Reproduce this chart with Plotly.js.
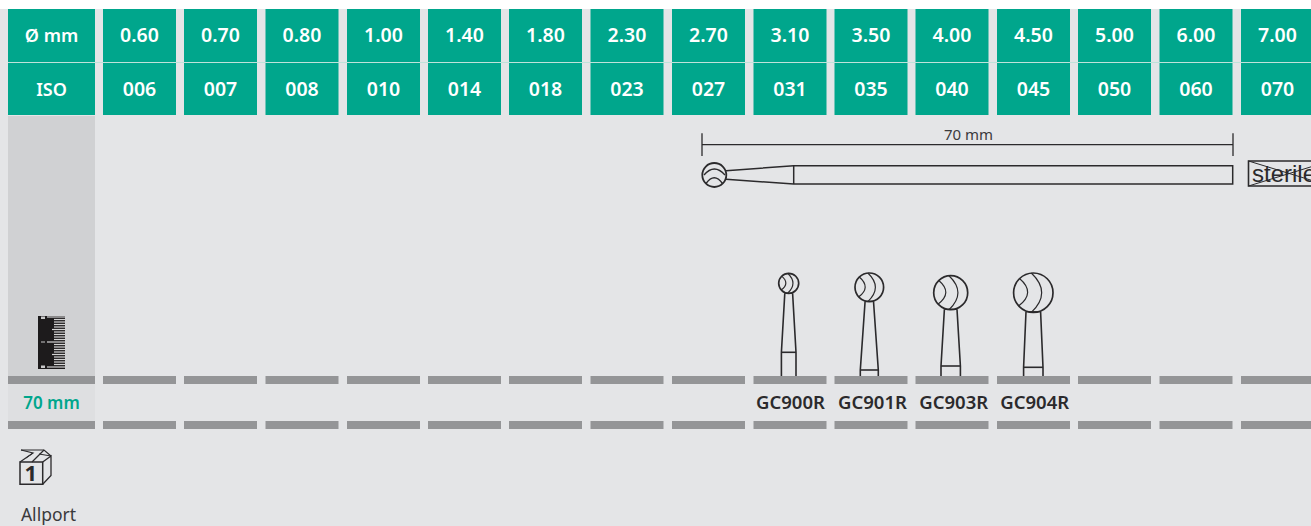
<!DOCTYPE html>
<html><head><meta charset="utf-8">
<script src="https://cdn.plot.ly/plotly-3.0.0.min.js"></script>
<style>html,body{margin:0;padding:0;background:#e4e5e7;overflow:hidden}#c{width:1311px;height:526px}</style>
</head><body><div id="c"></div>
<script>
const diameters=["0.60","0.70","0.80","1.00","1.40","1.80","2.30","2.70","3.10","3.50","4.00","4.50","5.00","6.00","7.00"];
const isoSizes=["006","007","008","010","014","018","023","027","031","035","040","045","050","060","070"];
const colLefts=[103,184,265.5,347,428,509,590.5,672,753.5,834.5,915.5,997,1078,1159.5,1241];
const colWidth=73;
const burCodes=["GC900R","GC901R","GC903R","GC904R"];
const burLabelX=[790.5,872.5,953.7,1034.7];
const burCx=[788.7,869.3,950.7,1033.3];
const burCy=[283.3,287.3,292.7,292.7];
const burR=[10,14.3,17,19.7];
const burNeckTop=[293.3,301.3,309.3,311.7];
const burNeckTopHalf=[3.9,4.2,6.3,7.3];
const burCollarY=[352.3,370,366,367.3];
const burCollarHalf=[7.3,9,9.7,9.7];
const rulerTicks=[317,319.5,322,324.5,327,329.5,332,334.5,337,339.5,342,344.5,347,349.5,352,354.5,357,359.5,362,364.5,367];
const TEAL="#00a68c",GREY="#949597",INK="#2b2a2c";

const shapes=[];
function rect(x0,y0,x1,y1,fill){shapes.push({type:"rect",x0,y0,x1,y1,fillcolor:fill,line:{width:0},layer:"below"});}
function path(d,w,color){shapes.push({type:"path",path:d,line:{width:w||1.6,color:color||INK},fillcolor:"rgba(0,0,0,0)"});}
function circle(cx,cy,r,w){shapes.push({type:"circle",x0:cx-r,x1:cx+r,y0:cy-r,y1:cy+r,line:{width:w||1.7,color:INK},fillcolor:"rgba(0,0,0,0)"});}

rect(0,0,1311,9,"#ffffff");
rect(8,116,95,376,"#d0d1d3");
rect(8,384,95,421,"#dedfe1");
rect(8,9,95,62,TEAL);rect(8,63,95,115,TEAL);
colLefts.forEach(x=>{
  rect(x,9,x+colWidth,62,TEAL);rect(x,63,x+colWidth,115,TEAL);
  rect(x,376,x+colWidth,384,GREY);rect(x,421,x+colWidth,429,GREY);
});
rect(8,376,95,384,GREY);rect(8,421,95,429,GREY);
rect(8,62,1311,63,"#bfe2da");

// vertical burs
burCx.forEach((cx,i)=>{
  const cy=burCy[i],r=burR[i],ny=burNeckTop[i],nh=burNeckTopHalf[i],cyl=burCollarY[i],ch=burCollarHalf[i];
  circle(cx,cy,r);
  path(`M${cx-nh},${ny} L${cx-ch},${cyl} L${cx-ch},376`);
  path(`M${cx+nh},${ny} L${cx+ch},${cyl} L${cx+ch},376`);
  path(`M${cx-nh},${ny} L${cx+nh},${ny}`,1.2);
  path(`M${cx-ch},${cyl} L${cx+ch},${cyl}`);
  path(`M${cx-r*0.1},${cy-r} Q${cx+r*0.95},${cy} ${cx-r*0.1},${cy+r}`,1.2);
  path(`M${cx-r*0.7},${cy-r*0.72} Q${cx+r*0.15},${cy} ${cx-r*0.75},${cy+r*0.68}`,1.2);
});

// horizontal bur and dimension line
path("M702,144.7 L1233,144.7",1.3);
path("M702,133.3 L702,156",1.3);
path("M1233,133.3 L1233,156",1.3);
circle(714.3,175,12,1.8);
path("M726,170.7 L793.7,165.7 L1232.7,165.7 L1232.7,184 L793.7,184 L726,179.3",1.5);
path("M793.7,165.7 L793.7,184",1.5);
path("M704,175 Q714.3,163 725,175",1.3);
path("M706,183.5 Q714.3,172 722.5,183.5",1.3);

// sterile stamp
shapes.push({type:"rect",x0:1248.5,x1:1330,y0:161,y1:186,line:{width:1.6,color:INK},fillcolor:"rgba(0,0,0,0)"});
path("M1248.5,161 L1330,186",1);
path("M1248.5,186 L1330,161",1);

// ruler
rect(38,316,65,369,"#1d1b1c");
rulerTicks.forEach((y,i)=>{
  const x0=(i%10===0)?47:(i%5===0)?52:54;
  shapes.push({type:"rect",x0,x1:65,y0:y-0.6,y1:y+0.6,fillcolor:"#d4d4d4",line:{width:0}});
});
rect(41,316.5,45,319,"#c8c8c8");rect(41,341.5,45,342.5,"#c8c8c8");rect(41,365.5,45,368,"#c8c8c8");

// box icon
path("M20,462 L42.7,462 L42.7,484.3 L20,484.3 Z",1.5);
path("M42.7,484.3 L51,475.5 L51,456 L42.7,462",1.3);
path("M21,450 L44,450 L51,456",1.2);
path("M21,450 L33,453 L20,462",1.2);
path("M44,450 L32,462",1.2);
path("M33,453 L26,458 M39,454 L51,456",1);

const textTraces=[];
function labels(xs,ys,ts,size,color,family,weight,pos){
  textTraces.push({type:"scatter",mode:"text",x:xs,y:ys,text:ts,textposition:pos||"middle center",cliponaxis:false,
    textfont:{size,color,family,weight},hoverinfo:"skip",showlegend:false});
}
const BODY='"Noto Sans",sans-serif';
const cx=colLefts.map(x=>x+colWidth/2);
labels([51.5],[37.5],["Ø mm"],18,"#ffffff",BODY,600);
labels([51.5],[91],["ISO"],18,"#ffffff",BODY,600);
labels(cx,cx.map(()=>37.5),diameters,19.5,"#ffffff",BODY,600);
labels(cx,cx.map(()=>91),isoSizes,19.5,"#ffffff",BODY,600);
labels(burLabelX,burLabelX.map(()=>404.5),burCodes,18.5,"#2b2a2c",BODY,600);
labels([51.5],[404.5],["70 mm"],17,TEAL,BODY,600);
labels([968.5],[136],["70 mm"],15,"#3a3a3c",BODY,400);
labels([48.5],[516.5],["Allport"],17.5,"#3a3a3c",BODY,400);
labels([30.7],[475],["1"],22,INK,BODY,700);
labels([1252],[176],["sterile"],24,INK,'"Liberation Sans",sans-serif',400,"middle right");

const ax={range:[0,1311],visible:false,fixedrange:true,zeroline:false,showgrid:false};
Plotly.newPlot("c",textTraces,{
  width:1311,height:526,margin:{l:0,r:0,t:0,b:0},
  paper_bgcolor:"#e4e5e7",plot_bgcolor:"#e4e5e7",showlegend:false,
  xaxis:ax,yaxis:{...ax,range:[526,0]},shapes
},{displayModeBar:false,staticPlot:true});
</script></body></html>
